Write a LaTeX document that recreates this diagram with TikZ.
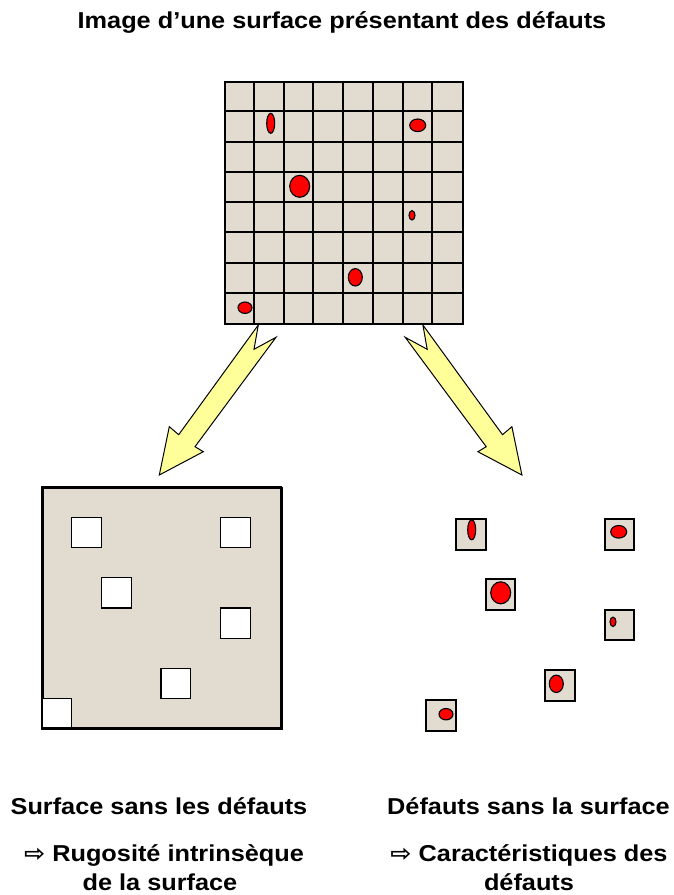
\documentclass[tikz,border=0pt]{standalone}
\usepackage{fontspec}
\newfontfamily\lab{Liberation Sans}[FakeStretch=1.1]
\newfontfamily\symf{DejaVu Sans}[FakeStretch=1.1]
\definecolor{beige}{RGB}{226,220,208}
\definecolor{arrowyellow}{RGB}{255,255,153}
\definecolor{defred}{RGB}{255,0,0}
\tikzset{
  txt/.style={font=\lab\bfseries\fontsize{23}{29}\selectfont, inner sep=0pt, anchor=base},
  defect/.style={fill=defred, draw=black, line width=1.1pt},
  hole/.style={fill=white, draw=black, line width=1.4pt},
  blockarrow/.style={fill=arrowyellow, draw=black, line width=1pt, line join=miter},
  piece/.style={fill=beige, draw=black, line width=2pt, inner sep=0pt, anchor=north west},
  gridline/.style={draw=black, line width=1.8pt},
}
\begin{document}
\begin{tikzpicture}[x=1pt,y=-1pt]
\useasboundingbox (0,0) rectangle (674,895);
\fill[white] (0,0) rectangle (674,895);

% title
\node[txt] (title) at (342,28) {Image d’une surface présentant des défauts};

% source grid
\node[piece, minimum width=238pt, minimum height=242pt] (grid) at (224,81) {};
\foreach \gx in {254,284,313,343,373,403,432}{
  \draw[gridline] (\gx,81) -- (\gx,323);
}
\foreach \gy in {111,142,172,202,232,263,293}{
  \draw[gridline] (224,\gy) -- (462,\gy);
}
\node[draw=black, line width=2.2pt, minimum width=238pt, minimum height=242pt, inner sep=0pt, anchor=north west] (gridframe) at (224,81) {};
\foreach \ex/\ey/\rx/\ry in {270.7/123.3/4/10, 417.7/125.3/8/6.3, 299.7/186.3/10/11,
                             412/215.3/3/4.7, 355.3/277.3/7/8.7, 245/307.7/7/5.7}{
  \draw[defect] (\ex,\ey) ellipse [x radius=\rx pt, y radius=\ry pt];
}

% arrows
\draw[blockarrow] (258.3,325) -- (178.7,434.7) -- (169.3,426.7) -- (159.3,475)
  -- (203.3,451.7) -- (195,446.7) -- (276,337.3) -- (254,349.3) -- cycle;
\draw[blockarrow] (422.9,325) -- (502.5,434.7) -- (511.9,426.7) -- (521.9,475)
  -- (477.9,451.7) -- (486.2,446.7) -- (405.2,337.3) -- (427.2,349.3) -- cycle;

% surface without defects
\node[piece, minimum width=239pt, minimum height=241pt] (surf) at (42,487) {};
\foreach \c/\r in {1/1, 6/1, 2/3, 6/4, 4/6, 0/7}{
  \draw[hole] (42+29.75*\c, 487+30.25*\r) rectangle ++(29.75,30.25);
}
\draw[line width=2pt] (42,487) rectangle (281,728);

% defects without surface
\foreach \c/\r/\ex/\ey/\rx/\ry in {1/1/270.7/123.3/4/10, 6/1/417.7/125.3/8/6.3,
    2/3/299.7/186.3/10/11, 6/4/412/215.3/3/4.7, 4/6/355.3/277.3/7/8.7, 0/7/245/307.7/7/5.7}{
  \node[piece, minimum width=29.75pt, minimum height=30.75pt] (d\c\r) at (425+29.75*\c, 487.5+30.25*\r) {};
  \draw[defect] (\ex+201,\ey+406.5) ellipse [x radius=\rx pt, y radius=\ry pt];
}

% captions
\node[txt] (lcap) at (159,814) {Surface sans les défauts};
\node[txt] (lsub1) at (164,861) {{\symf\bfseries ⇨} Rugosité intrinsèque};
\node[txt] (lsub2) at (160,890) {de la surface};
\node[txt] (rcap) at (528.5,814) {Défauts sans la surface};
\node[txt] (rsub1) at (529,861) {{\symf\bfseries ⇨} Caractéristiques des};
\node[txt] (rsub2) at (529,890) {défauts};
\end{tikzpicture}
\end{document}
